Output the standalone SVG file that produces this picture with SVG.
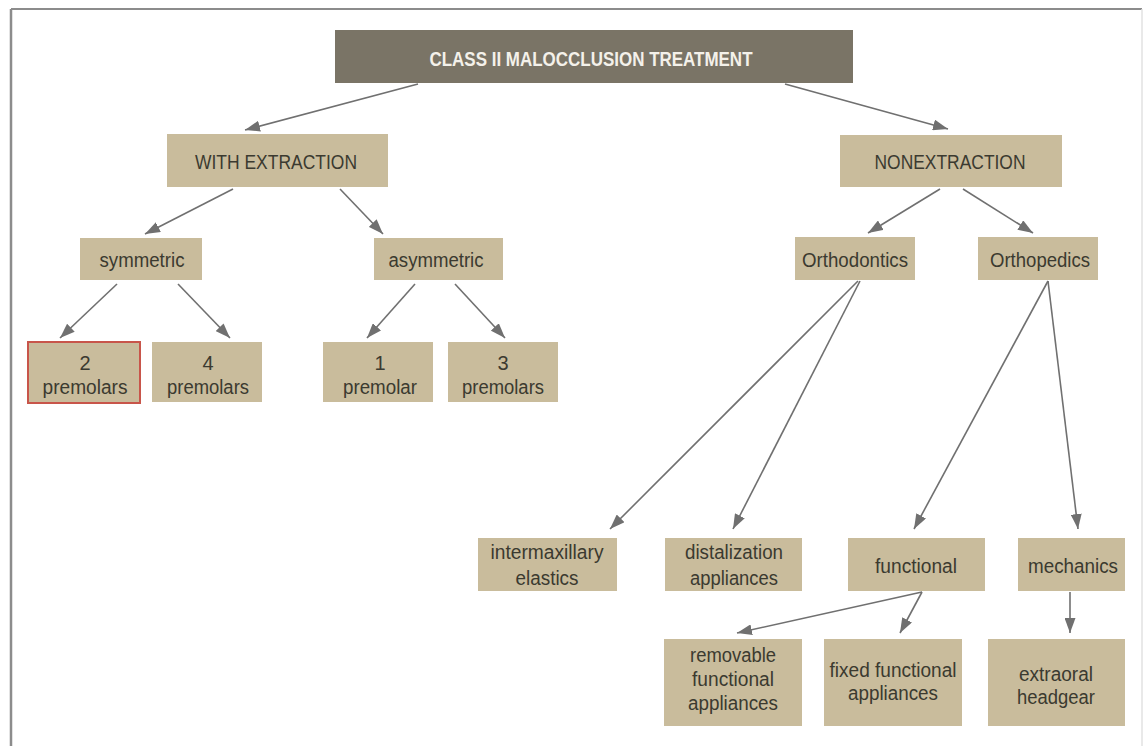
<svg xmlns="http://www.w3.org/2000/svg" width="1146" height="746" viewBox="0 0 1146 746">
<style>
.box{fill:#c9bc9c}
.title{fill:#7a7466}
.t{font-family:"Liberation Sans",Arial,sans-serif;font-size:20px;fill:#3b3a30;text-anchor:middle}
.tt{font-family:"Liberation Sans",Arial,sans-serif;font-size:20.5px;font-weight:bold;fill:#f4f1ea;text-anchor:middle}
.c line{stroke:#707070;stroke-width:1.6;marker-end:url(#ah)}
</style>
<defs>
<marker id="ah" viewBox="0 0 15 11" refX="15" refY="5.5" markerWidth="15" markerHeight="11" markerUnits="userSpaceOnUse" orient="auto">
<path d="M0,0 L15,5.5 L0,11 z" fill="#707070"/>
</marker>
</defs>
<rect width="1146" height="746" fill="#ffffff"/>
<g id="frame">
<line x1="11" y1="9" x2="1142" y2="9" stroke="#8c8c8c" stroke-width="2"/>
<line x1="11" y1="9" x2="11" y2="746" stroke="#8c8c8c" stroke-width="2.5"/>
<line x1="1142" y1="9" x2="1142" y2="746" stroke="#e2e2e2" stroke-width="1.5"/>
</g>
<g class="c" id="connectors">
<line x1="418" y1="84" x2="245" y2="130"/>
<line x1="785" y1="84" x2="948" y2="129"/>
<line x1="233" y1="189" x2="145" y2="234"/>
<line x1="340" y1="189" x2="383" y2="234"/>
<line x1="117" y1="284" x2="60" y2="338"/>
<line x1="178" y1="284" x2="230" y2="338"/>
<line x1="415" y1="284" x2="367" y2="338"/>
<line x1="455" y1="284" x2="505" y2="338"/>
<line x1="940" y1="189" x2="868" y2="233"/>
<line x1="963" y1="189" x2="1033" y2="233"/>
<line x1="858" y1="281" x2="610" y2="529"/>
<line x1="860" y1="281" x2="733" y2="529"/>
<line x1="1048" y1="281" x2="914" y2="529"/>
<line x1="1048" y1="281" x2="1078" y2="529"/>
<line x1="922" y1="592" x2="737" y2="633"/>
<line x1="922" y1="592" x2="900" y2="633"/>
<line x1="1070" y1="592" x2="1070" y2="633"/>
</g>
<g id="n-title"><rect class="title" x="335" y="30" width="518" height="53"/><text class="tt" x="591" y="66" textLength="323" lengthAdjust="spacingAndGlyphs">CLASS II MALOCCLUSION TREATMENT</text></g>
<g id="n-with"><rect class="box" x="167" y="134" width="221" height="53"/><text class="t" x="276" y="169" textLength="162" lengthAdjust="spacingAndGlyphs">WITH EXTRACTION</text></g>
<g id="n-non"><rect class="box" x="840" y="135" width="222" height="52"/><text class="t" x="950" y="169" textLength="151" lengthAdjust="spacingAndGlyphs">NONEXTRACTION</text></g>
<g id="n-sym"><rect class="box" x="80" y="238" width="122" height="42"/><text class="t" x="142" y="267" textLength="85" lengthAdjust="spacingAndGlyphs">symmetric</text></g>
<g id="n-asym"><rect class="box" x="374" y="238" width="129" height="42"/><text class="t" x="436" y="267" textLength="95" lengthAdjust="spacingAndGlyphs">asymmetric</text></g>
<g id="n-orthodontics"><rect class="box" x="795" y="237" width="120" height="43"/><text class="t" x="855" y="267" textLength="106" lengthAdjust="spacingAndGlyphs">Orthodontics</text></g>
<g id="n-orthopedics"><rect class="box" x="978" y="237" width="120" height="43"/><text class="t" x="1040" y="267" textLength="100" lengthAdjust="spacingAndGlyphs">Orthopedics</text></g>
<g id="n-2pm"><rect class="box" x="28" y="342" width="112" height="61" stroke="#c8554a" stroke-width="2"/><text class="t" x="85" y="370">2</text><text class="t" x="85" y="394" textLength="85" lengthAdjust="spacingAndGlyphs">premolars</text></g>
<g id="n-4pm"><rect class="box" x="152" y="342" width="110" height="60"/><text class="t" x="208" y="370">4</text><text class="t" x="208" y="394" textLength="82" lengthAdjust="spacingAndGlyphs">premolars</text></g>
<g id="n-1pm"><rect class="box" x="323" y="342" width="110" height="60"/><text class="t" x="380" y="370">1</text><text class="t" x="380" y="394" textLength="74" lengthAdjust="spacingAndGlyphs">premolar</text></g>
<g id="n-3pm"><rect class="box" x="448" y="342" width="110" height="60"/><text class="t" x="503" y="370">3</text><text class="t" x="503" y="394" textLength="82" lengthAdjust="spacingAndGlyphs">premolars</text></g>
<g id="n-inter"><rect class="box" x="478" y="538" width="139" height="53"/><text class="t" x="547" y="559" textLength="113" lengthAdjust="spacingAndGlyphs">intermaxillary</text><text class="t" x="547" y="585" textLength="63" lengthAdjust="spacingAndGlyphs">elastics</text></g>
<g id="n-dist"><rect class="box" x="665" y="538" width="137" height="53"/><text class="t" x="734" y="559" textLength="98" lengthAdjust="spacingAndGlyphs">distalization</text><text class="t" x="734" y="585" textLength="88" lengthAdjust="spacingAndGlyphs">appliances</text></g>
<g id="n-func"><rect class="box" x="848" y="538" width="137" height="53"/><text class="t" x="916" y="573" textLength="82" lengthAdjust="spacingAndGlyphs">functional</text></g>
<g id="n-mech"><rect class="box" x="1018" y="538" width="107" height="53"/><text class="t" x="1073" y="573" textLength="90" lengthAdjust="spacingAndGlyphs">mechanics</text></g>
<g id="n-remov"><rect class="box" x="664" y="639" width="138" height="87"/><text class="t" x="733" y="662" textLength="86" lengthAdjust="spacingAndGlyphs">removable</text><text class="t" x="733" y="686" textLength="82" lengthAdjust="spacingAndGlyphs">functional</text><text class="t" x="733" y="710" textLength="90" lengthAdjust="spacingAndGlyphs">appliances</text></g>
<g id="n-fixed"><rect class="box" x="824" y="639" width="138" height="87"/><text class="t" x="893" y="677" textLength="127" lengthAdjust="spacingAndGlyphs">fixed functional</text><text class="t" x="893" y="700" textLength="90" lengthAdjust="spacingAndGlyphs">appliances</text></g>
<g id="n-extra"><rect class="box" x="988" y="639" width="137" height="87"/><text class="t" x="1056" y="681" textLength="74" lengthAdjust="spacingAndGlyphs">extraoral</text><text class="t" x="1056" y="704" textLength="78" lengthAdjust="spacingAndGlyphs">headgear</text></g>
</svg>
